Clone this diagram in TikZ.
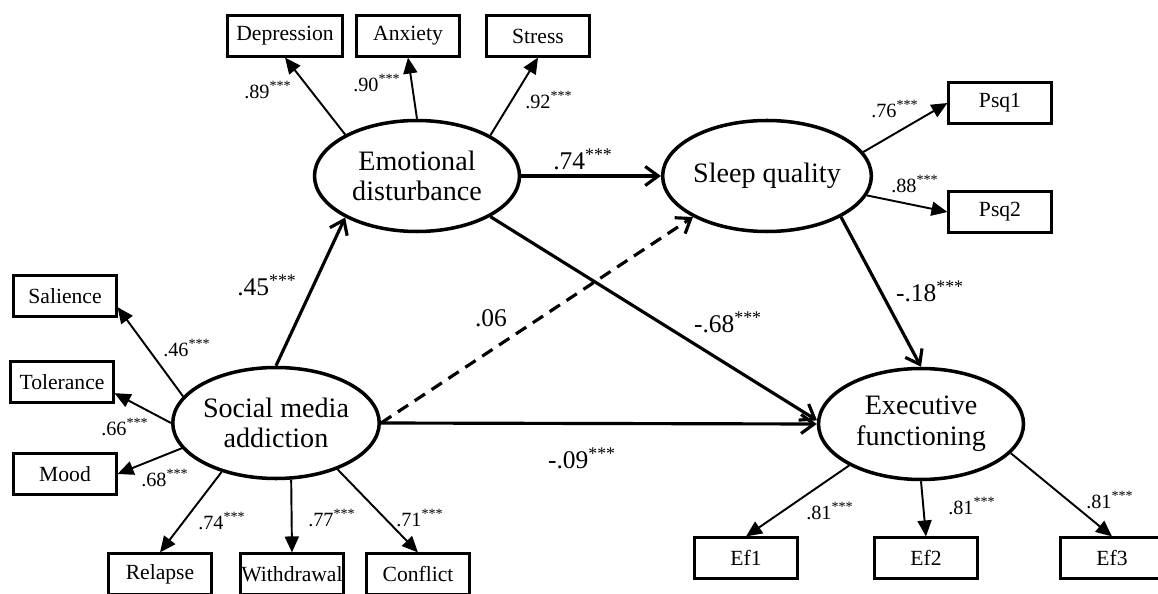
\documentclass[tikz,border=0pt]{standalone}
\usepackage{fontspec}
\setmainfont{Liberation Serif}
\usetikzlibrary{shapes.geometric,arrows.meta}

\newcommand{\sigstar}{\textsuperscript{***}}

\begin{document}
\begin{tikzpicture}[
	latent/.style={ellipse, draw, line width=2pt, minimum width=4.1cm, minimum height=2.22cm, inner sep=0pt, align=center, font=\fontsize{16}{17.5}\selectfont},
	manifest/.style={rectangle, draw, line width=1.2pt, minimum width=2.06cm, minimum height=0.82cm, inner xsep=0.5pt, font=\fontsize{12.3}{13}\selectfont},
	ldlabel/.style={inner sep=0pt, font=\fontsize{11.5}{13}\selectfont},
	coef/.style={inner sep=0pt, font=\fontsize{14.5}{16}\selectfont},
	loading/.style={line width=1.1pt, -{Triangle[length=3.2mm,width=2.8mm]}},
	effect/.style={line width=1.8pt, -{Straight Barb[length=2.6mm,width=3.8mm]}}
	]
	\useasboundingbox (0,0) rectangle (23.16,11.86);

	% latent variables
	\node[latent] (ed) at (8.34, 8.34) {Emotional\\disturbance};
	\node[latent] (sq) at (15.34, 8.34) {Sleep quality};
	\node[latent] (sma) at (5.52, 3.40) {Social media\\addiction};
	\node[latent] (ef) at (18.42, 3.38) {Executive\\functioning};

	% indicators
	\node[manifest, minimum width=2.30cm] (dep) at (5.70, 11.14) {Depression};
	\node[manifest] (anx) at (8.16, 11.14) {Anxiety};
	\node[manifest] (str) at (10.76, 11.14) {Stress};
	\node[manifest] (sal) at (1.30, 5.94) {Salience};
	\node[manifest] (tol) at (1.24, 4.22) {Tolerance};
	\node[manifest] (mood) at (1.30, 2.38) {Mood};
	\node[manifest] (rel) at (3.20, 0.38) {Relapse};
	\node[manifest] (wd) at (5.84, 0.38) {Withdrawal};
	\node[manifest] (con) at (8.36, 0.38) {Conflict};
	\node[manifest] (psq1) at (20.00, 9.80) {Psq1};
	\node[manifest] (psq2) at (20.00, 7.62) {Psq2};
	\node[manifest] (ef1) at (14.92, 0.70) {Ef1};
	\node[manifest] (ef2) at (18.52, 0.70) {Ef2};
	\node[manifest] (ef3) at (22.24, 0.70) {Ef3};

	% measurement paths
	\draw[loading] (ed.150) -- (dep.south);
	\draw[loading] (ed.north) -- (anx.south);
	\draw[loading] (ed.29) -- (str.south);
	\draw[loading] (sma.164) -- (sal.-12);
	\draw[loading] (sma.west) -- (tol.-12);
	\draw[loading] (sma.195) -- (mood.east);
	\draw[loading] (sma.222) -- (rel.north);
	\draw[loading] (sma.-75) -- (wd.north);
	\draw[loading] (sma.-37) -- (con.north);
	\draw[loading] (sq.14) -- (psq1.west);
	\draw[loading] (sq.-11) -- (psq2.west);
	\draw[loading] (ef.210) -- (ef1.north);
	\draw[loading] (ef.south) -- (ef2.north);
	\draw[loading] (ef.-18) -- (ef3.north);

	\node[ldlabel] (l89) at (5.36, 10.06) {.89\sigstar};
	\node[ldlabel] (l90) at (7.54, 10.20) {.90\sigstar};
	\node[ldlabel] (l92) at (10.98, 9.86) {.92\sigstar};
	\node[ldlabel] (l46) at (3.74, 4.90) {.46\sigstar};
	\node[ldlabel] (l66) at (2.50, 3.32) {.66\sigstar};
	\node[ldlabel] (l68) at (3.30, 2.30) {.68\sigstar};
	\node[ldlabel] (l74) at (4.44, 1.44) {.74\sigstar};
	\node[ldlabel] (l77) at (6.64, 1.50) {.77\sigstar};
	\node[ldlabel] (l71) at (8.40, 1.50) {.71\sigstar};
	\node[ldlabel] (l76) at (17.90, 9.68) {.76\sigstar};
	\node[ldlabel] (l88) at (18.30, 8.18) {.88\sigstar};
	\node[ldlabel] (lef1) at (16.60, 1.64) {.81\sigstar};
	\node[ldlabel] (lef2) at (19.44, 1.74) {.81\sigstar};
	\node[ldlabel] (lef3) at (22.20, 1.86) {.81\sigstar};

	% structural paths
	\draw[effect] (ed.east) -- (sq.west);
	\draw[effect] (sma.north) -- (ed.210);
	\draw[effect] (ed.-29) -- (ef.178);
	\draw[effect] (sma.east) -- (ef.west);
	\draw[effect, dash pattern=on 7pt off 4.5pt] (sma.east) -- (sq.209);
	\draw[effect] (sq.-29) -- (ef.north);

	\node[coef] (c74) at (11.66, 8.68) {.74\sigstar};
	\node[coef] (c45) at (5.34, 6.16) {.45\sigstar};
	\node[coef] (c06) at (9.82, 5.50) {.06};
	\node[coef] (c68) at (14.56, 5.42) {-.68\sigstar};
	\node[coef] (c18) at (18.60, 6.04) {-.18\sigstar};
	\node[coef] (c09) at (11.64, 2.70) {-.09\sigstar};
\end{tikzpicture}
\end{document}
